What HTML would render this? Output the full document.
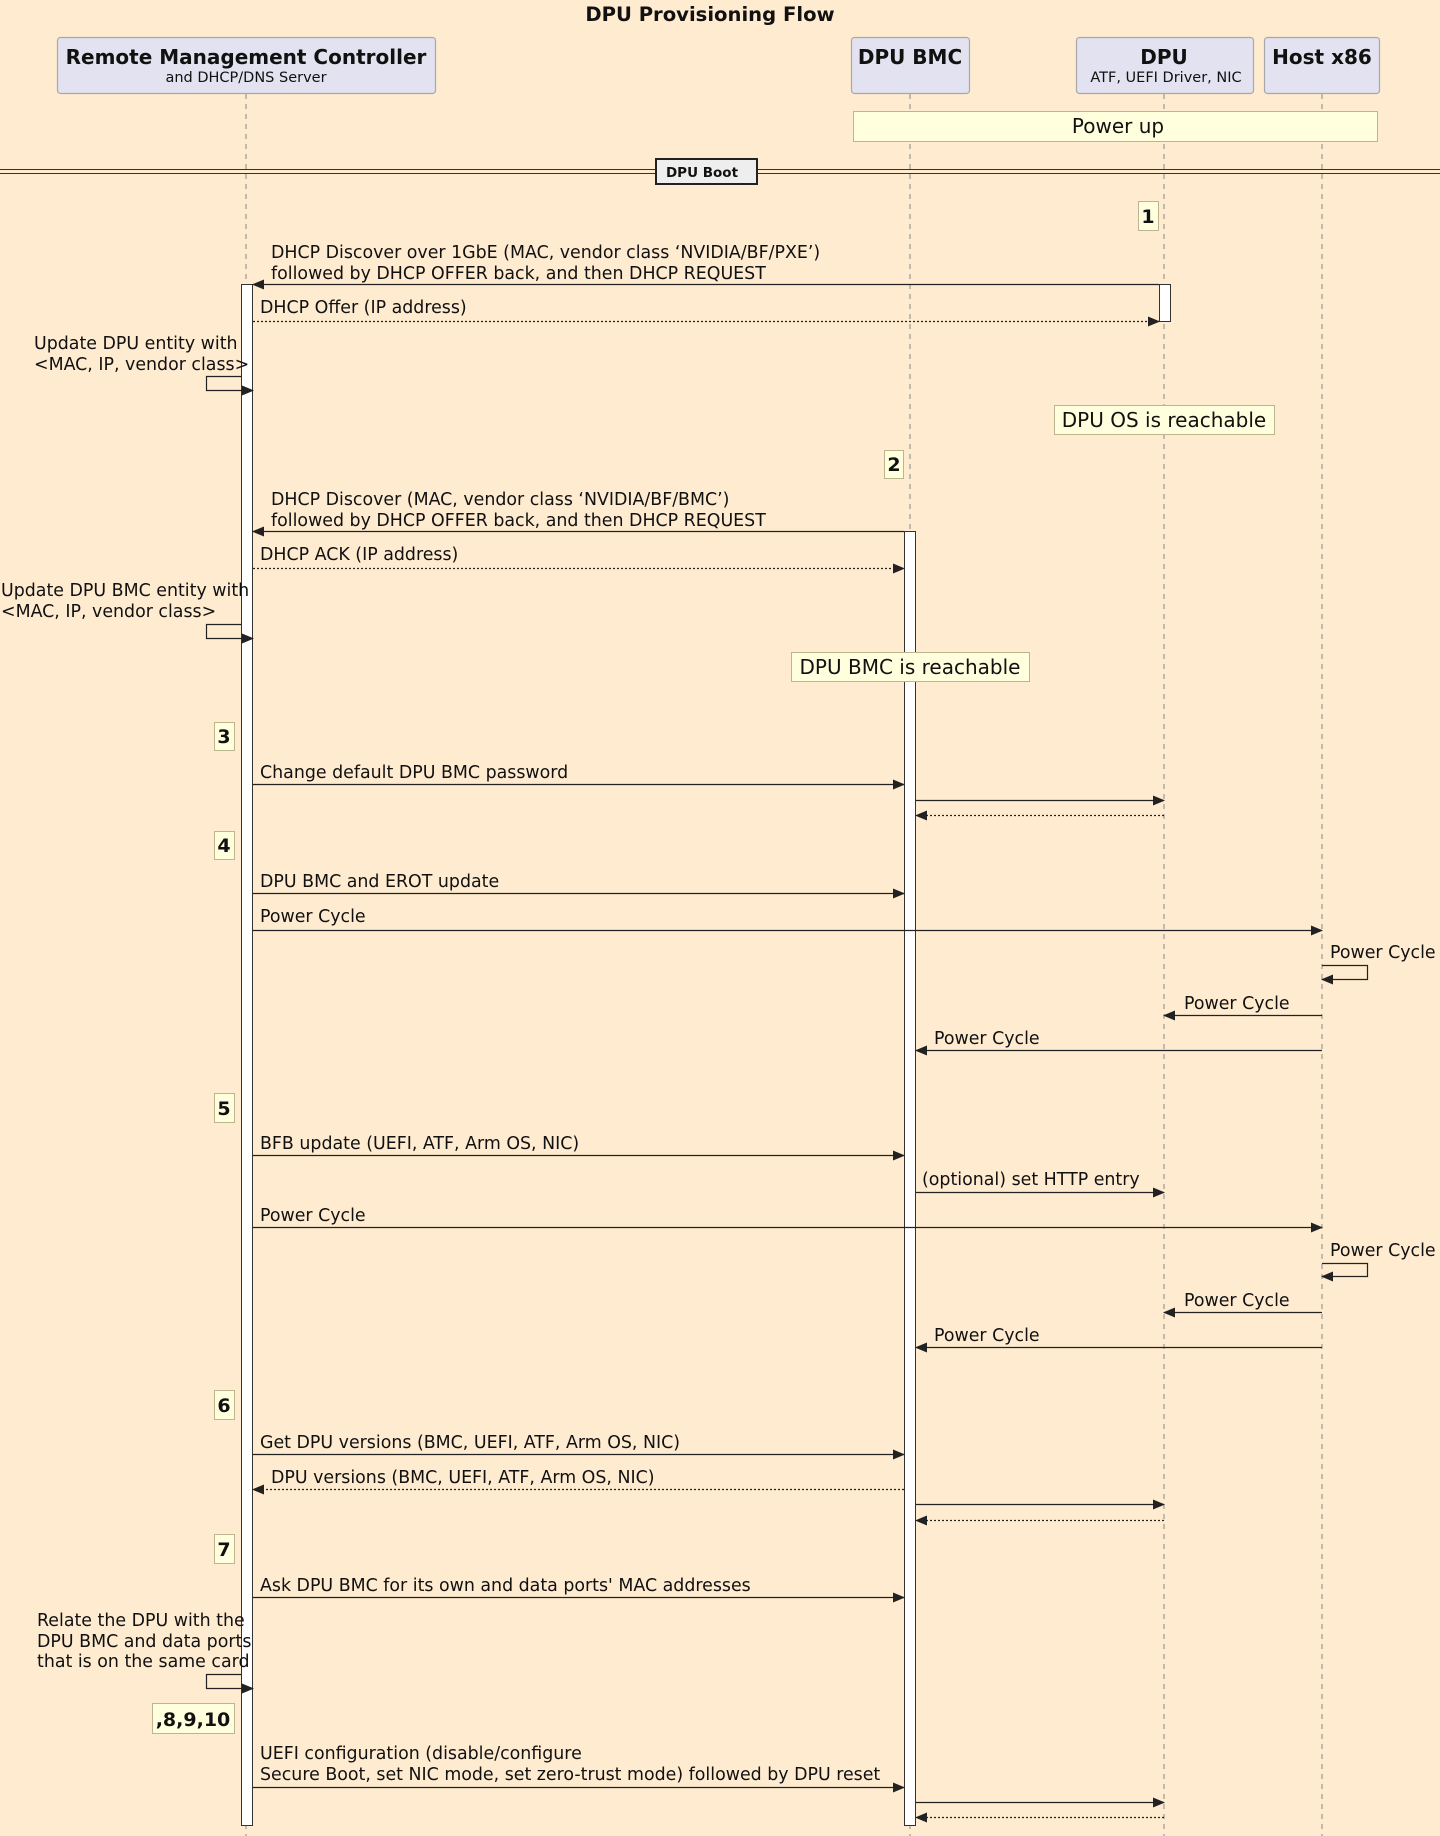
<!DOCTYPE html>
<html><head><meta charset="utf-8"><style>
html,body{margin:0;padding:0;background:#FFEBD0;}
svg{display:block;}
text{font-family:"DejaVu Sans","Liberation Sans",sans-serif;fill:#111;}
.m{font-size:17.4px;}
.b{font-weight:bold;}
</style></head><body>
<svg width="1440" height="1836" viewBox="0 0 1440 1836" xmlns="http://www.w3.org/2000/svg">
<defs>
<marker id="a" markerWidth="12" markerHeight="10" refX="11" refY="5" orient="auto" markerUnits="userSpaceOnUse"><path d="M0,0 L12,5 L0,10 Z" fill="#222"/></marker>
</defs>
<rect width="1440" height="1836" fill="#FFEBD0"/>
<text x="710" y="21" text-anchor="middle" class="b" style="font-size:19.6px">DPU Provisioning Flow</text>

<g stroke="#888" stroke-width="1" stroke-dasharray="5,5">
<line x1="246" y1="94" x2="246" y2="1836"/>
<line x1="910" y1="94" x2="910" y2="1836"/>
<line x1="1164" y1="94" x2="1164" y2="1836"/>
<line x1="1322" y1="94" x2="1322" y2="1836"/>
</g>

<g fill="#E2E2F0" stroke="#A8A8A8" stroke-width="1.2">
<rect x="57.5" y="37.5" width="378" height="56" rx="3"/>
<rect x="851.5" y="37.5" width="118" height="56" rx="3"/>
<rect x="1076.5" y="37.5" width="177" height="56" rx="3"/>
<rect x="1264.5" y="37.5" width="115" height="56" rx="3"/>
</g>
<text x="246" y="64" text-anchor="middle" class="b" style="font-size:20px">Remote Management Controller</text>
<text x="246" y="82" text-anchor="middle" style="font-size:14.5px">and DHCP/DNS Server</text>
<text x="910" y="64" text-anchor="middle" class="b" style="font-size:20px">DPU BMC</text>
<text x="1164" y="64" text-anchor="middle" class="b" style="font-size:20px">DPU</text>
<text x="1166" y="82" text-anchor="middle" style="font-size:14.5px">ATF, UEFI Driver, NIC</text>
<text x="1322" y="64" text-anchor="middle" class="b" style="font-size:20px">Host x86</text>

<rect x="853.5" y="111.5" width="524" height="30" fill="#FFFFDD" stroke="#BDB58E"/>
<text x="1118" y="133" text-anchor="middle" style="font-size:20px">Power up</text>

<line x1="0" y1="169.5" x2="1440" y2="169.5" stroke="#333"/>
<line x1="0" y1="173.5" x2="1440" y2="173.5" stroke="#333"/>
<rect x="656" y="159" width="101" height="25" fill="#EEEEEE" stroke="#222" stroke-width="2"/>
<text x="702" y="177" text-anchor="middle" class="b" style="font-size:13.5px">DPU Boot</text>

<g fill="#fff" stroke="#333">
<rect x="241.5" y="284.5" width="11" height="1541"/>
<rect x="904.5" y="531.5" width="11" height="1294"/>
<rect x="1159.5" y="284.5" width="11" height="37"/>
</g>

<g fill="#FFFFDD" stroke="#BDB58E">
<rect x="1138.5" y="201.5" width="20" height="29"/>
<rect x="1054.5" y="405.5" width="220" height="29"/>
<rect x="884.5" y="450.5" width="19" height="28"/>
<rect x="791.5" y="652.5" width="238" height="29"/>
<rect x="214.5" y="722.5" width="20" height="28"/>
<rect x="214.5" y="831.5" width="20" height="28"/>
<rect x="214.5" y="1093.5" width="20" height="29"/>
<rect x="214.5" y="1390.5" width="20" height="29"/>
<rect x="214.5" y="1534.5" width="20" height="29"/>
<rect x="152.5" y="1703.5" width="82" height="30"/>
</g>
<g class="b" style="font-size:19px" text-anchor="middle">
<text x="1148" y="223">1</text>
<text x="894" y="471">2</text>
<text x="224" y="743">3</text>
<text x="224" y="852">4</text>
<text x="224" y="1115">5</text>
<text x="224" y="1412">6</text>
<text x="224" y="1556">7</text>
<text x="193" y="1726">,8,9,10</text>
</g>
<text x="1164" y="427" text-anchor="middle" style="font-size:20px">DPU OS is reachable</text>
<text x="910" y="674" text-anchor="middle" style="font-size:20px">DPU BMC is reachable</text>

<g stroke="#222" stroke-width="1.2" fill="none">
<line x1="1159" y1="284.5" x2="253" y2="284.5" marker-end="url(#a)"/>
<line x1="253" y1="321.5" x2="1159" y2="321.5" stroke-dasharray="2,2" marker-end="url(#a)"/>
<polyline points="241,376.5 206.5,376.5 206.5,390.5 253,390.5" marker-end="url(#a)"/>
<line x1="904" y1="531.5" x2="253" y2="531.5" marker-end="url(#a)"/>
<line x1="253" y1="568.5" x2="904" y2="568.5" stroke-dasharray="2,2" marker-end="url(#a)"/>
<polyline points="241,624.5 206.5,624.5 206.5,638.5 253,638.5" marker-end="url(#a)"/>
<line x1="253" y1="784.5" x2="904" y2="784.5" marker-end="url(#a)"/>
<line x1="916" y1="800.5" x2="1164" y2="800.5" marker-end="url(#a)"/>
<line x1="1164" y1="815.5" x2="916" y2="815.5" stroke-dasharray="2,2" marker-end="url(#a)"/>
<line x1="253" y1="893.5" x2="904" y2="893.5" marker-end="url(#a)"/>
<line x1="253" y1="930.5" x2="1322" y2="930.5" marker-end="url(#a)"/>
<polyline points="1322,965.5 1367.5,965.5 1367.5,979.5 1322,979.5" marker-end="url(#a)"/>
<line x1="1322" y1="1015.5" x2="1164" y2="1015.5" marker-end="url(#a)"/>
<line x1="1322" y1="1050.5" x2="916" y2="1050.5" marker-end="url(#a)"/>
<line x1="253" y1="1155.5" x2="904" y2="1155.5" marker-end="url(#a)"/>
<line x1="916" y1="1192.5" x2="1164" y2="1192.5" marker-end="url(#a)"/>
<line x1="253" y1="1227.5" x2="1322" y2="1227.5" marker-end="url(#a)"/>
<polyline points="1322,1263.5 1367.5,1263.5 1367.5,1276.5 1322,1276.5" marker-end="url(#a)"/>
<line x1="1322" y1="1312.5" x2="1164" y2="1312.5" marker-end="url(#a)"/>
<line x1="1322" y1="1347.5" x2="916" y2="1347.5" marker-end="url(#a)"/>
<line x1="253" y1="1454.5" x2="904" y2="1454.5" marker-end="url(#a)"/>
<line x1="904" y1="1489.5" x2="253" y2="1489.5" stroke-dasharray="2,2" marker-end="url(#a)"/>
<line x1="916" y1="1504.5" x2="1164" y2="1504.5" marker-end="url(#a)"/>
<line x1="1164" y1="1520.5" x2="916" y2="1520.5" stroke-dasharray="2,2" marker-end="url(#a)"/>
<line x1="253" y1="1597.5" x2="904" y2="1597.5" marker-end="url(#a)"/>
<polyline points="241,1674.5 206.5,1674.5 206.5,1688.5 253,1688.5" marker-end="url(#a)"/>
<line x1="253" y1="1787.5" x2="904" y2="1787.5" marker-end="url(#a)"/>
<line x1="916" y1="1802.5" x2="1164" y2="1802.5" marker-end="url(#a)"/>
<line x1="1164" y1="1817.5" x2="916" y2="1817.5" stroke-dasharray="2,2" marker-end="url(#a)"/>
</g>

<g class="m">
<text x="271" y="258">DHCP Discover over 1GbE (MAC, vendor class ‘NVIDIA/BF/PXE’)</text>
<text x="271" y="279">followed by DHCP OFFER back, and then DHCP REQUEST</text>
<text x="260" y="313">DHCP Offer (IP address)</text>
<text x="34" y="349">Update DPU entity with</text>
<text x="34" y="370">&lt;MAC, IP, vendor class&gt;</text>
<text x="271" y="505">DHCP Discover (MAC, vendor class ‘NVIDIA/BF/BMC’)</text>
<text x="271" y="526">followed by DHCP OFFER back, and then DHCP REQUEST</text>
<text x="260" y="560">DHCP ACK (IP address)</text>
<text x="1" y="596">Update DPU BMC entity with</text>
<text x="1" y="617">&lt;MAC, IP, vendor class&gt;</text>
<text x="260" y="778">Change default DPU BMC password</text>
<text x="260" y="887">DPU BMC and EROT update</text>
<text x="260" y="922">Power Cycle</text>
<text x="1330" y="958">Power Cycle</text>
<text x="1184" y="1009">Power Cycle</text>
<text x="934" y="1044">Power Cycle</text>
<text x="260" y="1149">BFB update (UEFI, ATF, Arm OS, NIC)</text>
<text x="922" y="1185">(optional) set HTTP entry</text>
<text x="260" y="1221">Power Cycle</text>
<text x="1330" y="1256">Power Cycle</text>
<text x="1184" y="1306">Power Cycle</text>
<text x="934" y="1341">Power Cycle</text>
<text x="260" y="1448">Get DPU versions (BMC, UEFI, ATF, Arm OS, NIC)</text>
<text x="271" y="1483">DPU versions (BMC, UEFI, ATF, Arm OS, NIC)</text>
<text x="260" y="1591">Ask DPU BMC for its own and data ports' MAC addresses</text>
<text x="37" y="1626">Relate the DPU with the</text>
<text x="37" y="1647">DPU BMC and data ports</text>
<text x="37" y="1667">that is on the same card</text>
<text x="260" y="1759">UEFI configuration (disable/configure</text>
<text x="260" y="1780">Secure Boot, set NIC mode, set zero-trust mode) followed by DPU reset</text>
</g>
</svg>
</body></html>
